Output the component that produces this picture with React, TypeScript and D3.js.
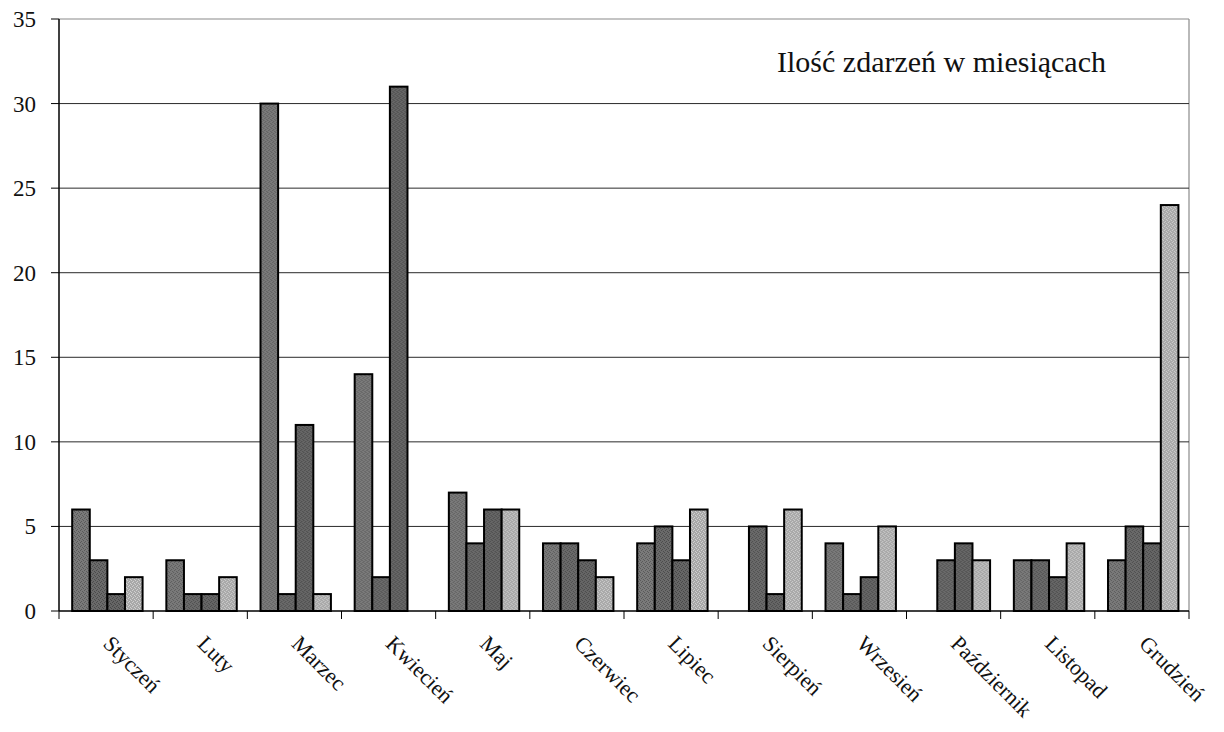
import React from "react";
import * as d3 from "d3";

const months = ["Styczeń","Luty","Marzec","Kwiecień","Maj","Czerwiec","Lipiec","Sierpień","Wrzesień","Październik","Listopad","Grudzień"];
const series1 = [6,3,30,14,7,4,4,0,4,0,3,3];
const series2 = [3,1,1,2,4,4,5,5,1,3,3,5];
const series3 = [1,1,11,31,6,3,3,1,2,4,2,4];
const series4 = [2,2,1,0,6,2,6,6,5,3,4,24];
const yTicks = [0,5,10,15,20,25,30,35];
const title = "Ilość zdarzeń w miesiącach";

const seriesList = [series1, series2, series3, series4];
const fills = ["#7a7a7a", "#6a6a6a", "#666666", "#a8a8a8"];
const dots = ["#5a5a5a", "#4c4c4c", "#484848", "#d0d0d0"];

const W = 1224, H = 732;
const left = 59, right = 1189, top = 19, bottom = 611;

export default function App() {
  const x = d3.scaleBand<string>().domain(months).range([left, right]).paddingInner(0).paddingOuter(0);
  const y = d3.scaleLinear().domain([0, 35]).range([bottom, top]);
  const bw = x.bandwidth();
  const inner = d3.scaleBand<number>().domain([0,1,2,3]).range([bw * 0.14, bw * 0.14 + 17.6 * 4]).padding(0);
  const font = "'Liberation Serif', 'Times New Roman', 'DejaVu Serif', serif";
  const boundaries = months.map((m) => x(m) as number).concat([right]);

  return (
    <svg width={W} height={H} style={{ position: "absolute", left: 0, top: 0, background: "#fff", fontFamily: font }}>
      <defs>
        {fills.map((f, k) => (
          <pattern key={k} id={`tex${k}`} width={4} height={4} patternUnits="userSpaceOnUse">
            <rect width={4} height={4} fill={f} />
            <rect x={0} y={0} width={1} height={1} fill={dots[k]} />
            <rect x={2} y={1} width={1} height={1} fill={dots[k]} />
            <rect x={1} y={2} width={1} height={1} fill={dots[k]} />
            <rect x={3} y={3} width={1} height={1} fill={dots[k]} />
          </pattern>
        ))}
      </defs>
      <rect x={0} y={0} width={W} height={H} fill="#fff" />
      {/* frame top/right */}
      <line x1={left} x2={right} y1={y(35)} y2={y(35)} stroke="#8a8a8a" strokeWidth={1.2} />
      <line x1={right} x2={right} y1={y(35)} y2={bottom} stroke="#8a8a8a" strokeWidth={1.2} />
      {/* gridlines */}
      {yTicks.filter((t) => t > 0 && t < 35).map((t) => (
        <line key={t} x1={left} x2={right} y1={y(t)} y2={y(t)} stroke="#2a2a2a" strokeWidth={1} />
      ))}
      {/* bars */}
      {months.map((m, i) => (
        <g key={m} transform={`translate(${x(m)},0)`}>
          {seriesList.map((s, k) => s[i] > 0 ? (
            <rect key={k} x={inner(k)} y={y(s[i])} width={inner.bandwidth()} height={bottom - y(s[i])}
              fill={`url(#tex${k})`} stroke="#000" strokeWidth={2} />
          ) : null)}
        </g>
      ))}
      {/* axes */}
      <line x1={left} x2={left} y1={y(35)} y2={bottom} stroke="#000" strokeWidth={1.5} />
      <line x1={left} x2={right} y1={bottom} y2={bottom} stroke="#000" strokeWidth={1.5} />
      {yTicks.map((t) => (
        <g key={t}>
          <line x1={left - 8} x2={left} y1={y(t)} y2={y(t)} stroke="#000" strokeWidth={1} />
          <text x={36} y={y(t)} dy="0.35em" textAnchor="end" fontSize={23} fill="#111" style={{ fontFamily: font }}>{t}</text>
        </g>
      ))}
      {boundaries.map((b, i) => (
        <line key={i} x1={b} x2={b} y1={bottom} y2={bottom + 8} stroke="#000" strokeWidth={1} />
      ))}
      {months.map((m) => {
        const cx = (x(m) as number) + bw / 2;
        return (
          <text key={m} transform={`translate(${cx - 4},${645}) rotate(45)`} fontSize={22} fill="#111" style={{ fontFamily: font }}>{m}</text>
        );
      })}
      <text x={777} y={72} fontSize={30} fill="#111" style={{ fontFamily: font }}>{title}</text>
    </svg>
  );
}
